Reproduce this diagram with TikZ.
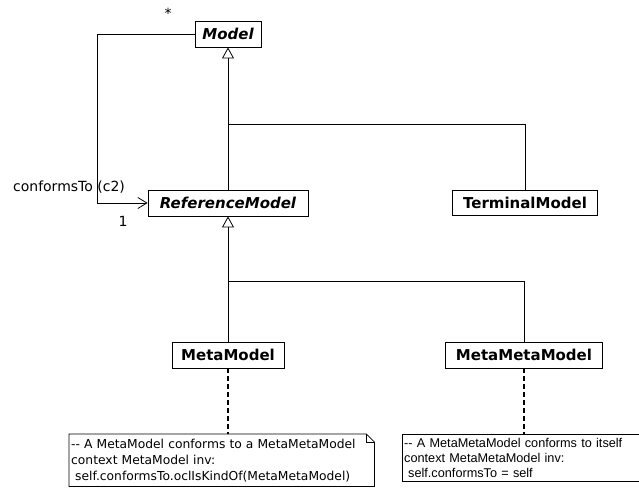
\documentclass[tikz,border=0pt]{standalone}
\usepackage{fontspec}
\newfontfamily\comicfont{DejaVu Sans}
\newfontfamily\arialfont{Liberation Sans}
\usetikzlibrary{arrows.meta}

\tikzset{
  classbox/.style={draw, line width=0.8pt, minimum height=26pt, inner sep=0pt,
    font=\comicfont\fontsize{15}{18}\selectfont\bfseries},
  abstract/.style={classbox, font=\comicfont\fontsize{15}{18}\selectfont\bfseries\itshape},
  notebox/.style={inner xsep=2pt, inner ysep=0pt, align=left, anchor=north west},
  inherit/.style={line width=0.8pt, -{Triangle[open, length=11pt, width=12pt]}},
  assoc/.style={line width=0.8pt, -{Straight Barb[length=9pt, width=11pt]}},
  attach/.style={line width=1.3pt, dash pattern=on 5pt off 3pt},
  label/.style={font=\comicfont\fontsize{14}{16}\selectfont, inner sep=0pt}
}

\begin{document}
\begin{tikzpicture}[x=1pt, y=-1pt]
  \useasboundingbox (0,0) rectangle (639,489);

  \node[abstract, minimum width=66pt] (model) at (228,34) {Model};
  \node[abstract, minimum width=160pt] (refmodel) at (228,203) {ReferenceModel};
  \node[classbox, minimum width=145pt, minimum height=25pt] (terminal) at (525,202.5) {TerminalModel};
  \node[classbox, minimum width=112pt] (meta) at (228,355) {MetaModel};
  \node[classbox, minimum width=157pt] (metameta) at (524,355) {MetaMetaModel};

  \coordinate (fork1) at (228,124);
  \coordinate (fork2) at (228,281);

  % generalisations
  \draw[inherit] (refmodel.north) -- (model.south);
  \draw[line width=0.8pt] (terminal.north) |- (fork1);
  \draw[inherit] (meta.north) -- (refmodel.south);
  \draw[line width=0.8pt] (metameta.north) |- (fork2);

  % conformsTo association
  \draw[assoc] (model.west) -- ++(-97,0) |- (refmodel.west);
  \node[label] (star) at (168,13) {*};
  \node[label] (role) at (69,187) {conformsTo (c2)};
  \node[label] (mult) at (123,221) {1};

  % notes
  \node[notebox, text width=301pt, minimum height=52pt,
    font=\comicfont\fontsize{12.3}{16}\selectfont] (note1) at (69,434)
    {-- A MetaModel conforms to a MetaMetaModel\\
     context MetaModel inv:\\
     \hspace*{4pt}self.conformsTo.oclIsKindOf(MetaMetaModel)};
  \draw[line width=0.8pt] (note1.north west) -- ([xshift=-8pt]note1.north east)
    -- ([yshift=-8pt]note1.north east) -- (note1.south east) -- (note1.south west) -- cycle;
  \draw[line width=0.8pt] ([xshift=-8pt]note1.north east) -- ([xshift=-8pt, yshift=-8pt]note1.north east)
    -- ([yshift=-8pt]note1.north east);

  \node[notebox, text width=262pt, minimum height=47pt,
    font=\arialfont\fontsize{12.7}{15}\selectfont] (note2) at (402,434)
    {-- A MetaMetaModel conforms to itself\\
     context MetaMetaModel inv:\\
     \hspace*{4pt}self.conformsTo = self};
  \draw[line width=0.8pt] (note2.north west) rectangle (note2.south east);

  \draw[attach] (meta.south) -- (meta.south |- note1.north);
  \draw[attach] (metameta.south) -- (metameta.south |- note2.north);
\end{tikzpicture}
\end{document}
